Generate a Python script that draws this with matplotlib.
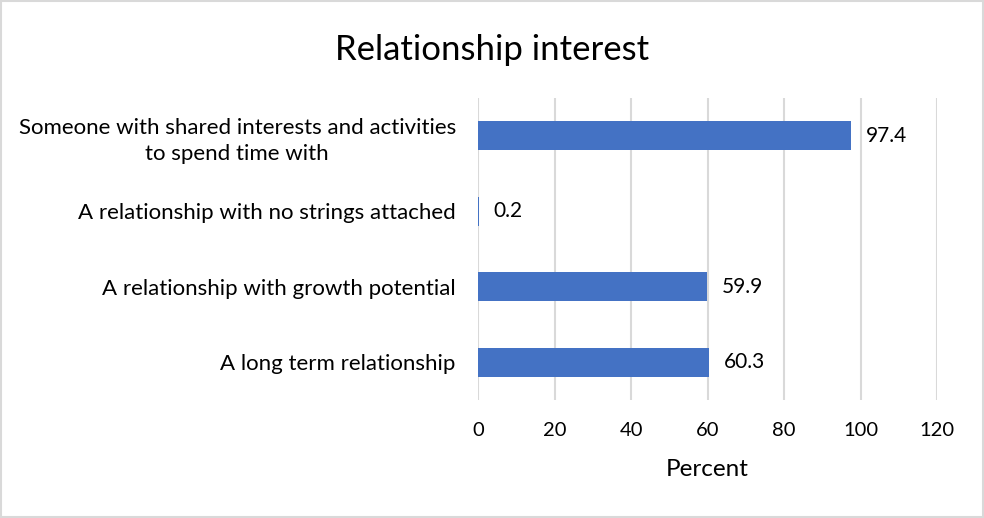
import matplotlib.pyplot as plt
from matplotlib.patches import Rectangle

# survey answers, listed bottom to top
categories = [
    "A long term relationship",
    "A relationship with growth potential",
    "A relationship with no strings attached",
    "Someone with shared interests and activities\nto spend time with",
]
percent = [60.3, 59.9, 0.2, 97.4]
x_ticks = [0, 20, 40, 60, 80, 100, 120]

plt.rcParams['font.family'] = ['Lato', 'DejaVu Sans']

BLUE = "#4472C4"
GRID = "#D9D9D9"


def main():
    fig = plt.figure(figsize=(9.84, 5.18), dpi=100)
    ax = fig.add_axes([0.4858, 0.2278, 0.4665, 0.583])

    y = list(range(len(categories)))
    ax.barh(y, percent, height=0.385, color=BLUE, zorder=2)

    # value labels to the right of each bar
    for yi, v in zip(y, percent):
        ax.text(v + 3.9, yi, f"{v:.1f}", va="center", ha="left",
                fontsize=15, color="#000000")

    ax.set_xlim(0, 120)
    ax.set_ylim(-0.5, len(categories) - 0.5)
    ax.set_xticks(x_ticks)
    ax.set_xticklabels([str(t) for t in x_ticks], fontsize=14.5)
    ax.set_yticks(y)
    ax.set_yticklabels(categories, fontsize=16, linespacing=1.4,
                       multialignment="center")
    ax.tick_params(axis="both", length=0)
    ax.tick_params(axis="x", pad=16)
    ax.tick_params(axis="y", pad=16)

    ax.grid(axis="x", color=GRID, linewidth=1.5, zorder=0)
    ax.set_axisbelow(True)
    for s in ax.spines.values():
        s.set_visible(False)

    ax.set_xlabel("Percent", fontsize=17.5, labelpad=14)
    fig.suptitle("Relationship interest", fontsize=25, y=0.935)

    # thin frame round the whole chart
    fig.patches.append(Rectangle((0.001, 0.001), 0.998, 0.997,
                                 transform=fig.transFigure, fill=False,
                                 edgecolor=GRID, linewidth=1.5))

    fig.savefig("out.png", dpi=100)


if __name__ == "__main__":
    main()
